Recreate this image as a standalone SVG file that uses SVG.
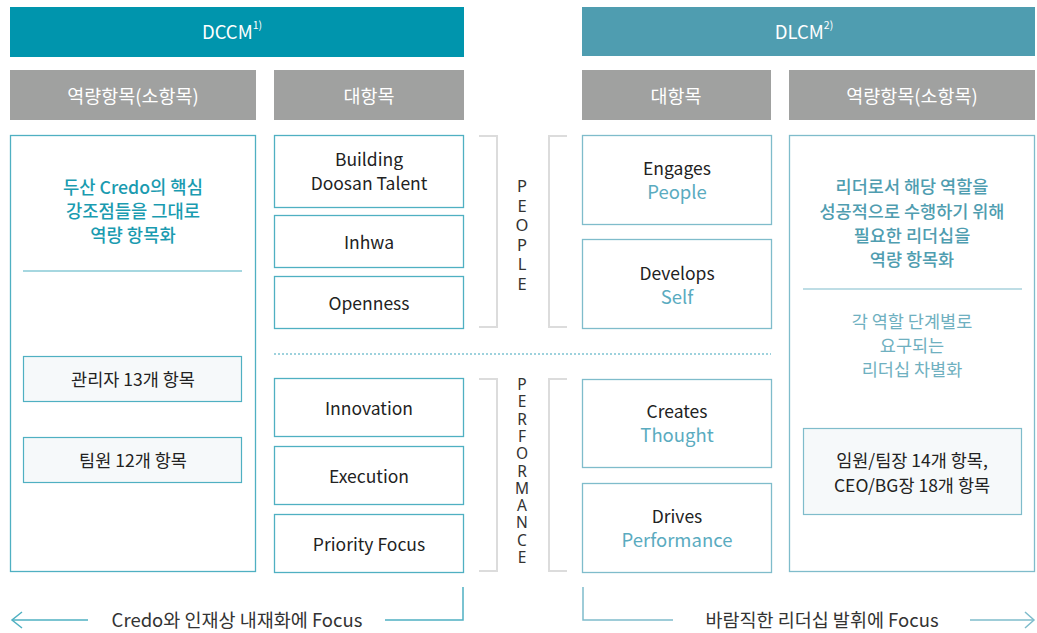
<svg xmlns="http://www.w3.org/2000/svg" width="1037" height="633" viewBox="0 0 1037 633">
<style>
text{font-family:"Noto Sans CJK KR","Noto Sans",sans-serif;text-anchor:middle;dominant-baseline:central}
.hd{fill:#fff;font-size:18.5px}
.gh{fill:#a0a1a0}
.box{fill:#fff;stroke:#4fb0c2;stroke-width:1.3}
.rbox{fill:#fff;stroke:#7fbccb;stroke-width:1.3}
.sub{fill:#f6f9fa;stroke:#4fb0c2;stroke-width:1.2}
.rsub{fill:#f6f9fa;stroke:#7fbccb;stroke-width:1.2}
.t{fill:#222;font-size:17.5px}
.tc{fill:#1a9bb0;font-size:17.7px;font-weight:500}
.rc{fill:#4f9db0;font-size:17.5px;font-weight:500}
.rl{fill:#6fb0c0;font-size:17.5px}
.lt{fill:#5aabbf;font-size:18.5px}
.br{fill:none;stroke:#dcdcdc;stroke-width:2}
.v{fill:#333;font-family:"Noto Sans",sans-serif}
.vp{font-size:16.5px}
.vf{font-size:15.5px}
.ln{fill:none;stroke:#4fb0c2;stroke-width:1.5}
.rln{fill:none;stroke:#7fbccb;stroke-width:1.5}
.bt{fill:#333;font-size:18.5px}
</style>
<g id="dccm"><rect x="10" y="7" width="454" height="50" fill="#0095ad"/><text class="hd" x="232" y="31">DCCM<tspan font-size="10.5" dy="-7">1)</tspan></text></g>
<g id="dlcm"><rect x="582" y="7" width="453" height="49" fill="#4f9db0"/><text class="hd" x="804" y="31">DLCM<tspan font-size="10.5" dy="-7">2)</tspan></text></g>
<g id="hdr-l1"><rect class="gh" x="10" y="70" width="246" height="50"/><text class="hd" x="133" y="95">역량항목(소항목)</text></g>
<g id="hdr-l2"><rect class="gh" x="274" y="70" width="190" height="50"/><text class="hd" x="369" y="95">대항목</text></g>
<g id="hdr-r1"><rect class="gh" x="582" y="70" width="189" height="50"/><text class="hd" x="676" y="95">대항목</text></g>
<g id="hdr-r2"><rect class="gh" x="789" y="70" width="246" height="50"/><text class="hd" x="912" y="95">역량항목(소항목)</text></g>

<g id="left-main">
<rect class="box" x="10.5" y="135.5" width="245" height="436"/>
<text class="tc" x="133" y="186">두산 Credo의 핵심</text>
<text class="tc" x="133" y="210">강조점들을 그대로</text>
<text class="tc" x="133" y="234">역량 항목화</text>
<line x1="23" y1="271" x2="242" y2="271" stroke="#4fb0c2" stroke-width="1.2"/>
</g>
<g id="mgr"><rect class="sub" x="23.5" y="356.5" width="218" height="45"/><text class="t" x="133" y="378">관리자 13개 항목</text></g>
<g id="team"><rect class="sub" x="23.5" y="437.5" width="218" height="45"/><text class="t" x="133" y="459">팀원 12개 항목</text></g>

<g id="building"><rect class="box" x="274.5" y="135.5" width="189" height="72"/><text class="t" x="369" y="158">Building</text><text class="t" x="369" y="182">Doosan Talent</text></g>
<g id="inhwa"><rect class="box" x="274.5" y="215.5" width="189" height="52"/><text class="t" x="369" y="241">Inhwa</text></g>
<g id="openness"><rect class="box" x="274.5" y="276.5" width="189" height="52"/><text class="t" x="369" y="302">Openness</text></g>
<g id="innovation"><rect class="box" x="274.5" y="378.5" width="189" height="58"/><text class="t" x="369" y="407">Innovation</text></g>
<g id="execution"><rect class="box" x="274.5" y="446.5" width="189" height="58"/><text class="t" x="369" y="475">Execution</text></g>
<g id="priority"><rect class="box" x="274.5" y="514.5" width="189" height="58"/><text class="t" x="369" y="543">Priority Focus</text></g>

<g id="engages"><rect class="rbox" x="582.5" y="135.5" width="189" height="89"/><text class="t" x="677" y="167">Engages</text><text class="lt" x="677" y="191">People</text></g>
<g id="develops"><rect class="rbox" x="582.5" y="239.5" width="189" height="89"/><text class="t" x="677" y="272">Develops</text><text class="lt" x="677" y="296">Self</text></g>
<g id="creates"><rect class="rbox" x="582.5" y="379.5" width="189" height="88"/><text class="t" x="677" y="410">Creates</text><text class="lt" x="677" y="434">Thought</text></g>
<g id="drives"><rect class="rbox" x="582.5" y="483.5" width="189" height="89"/><text class="t" x="677" y="515">Drives</text><text class="lt" x="677" y="539">Performance</text></g>

<g id="right-main">
<rect class="rbox" x="789.5" y="135.5" width="245" height="436"/>
<text class="rc" x="912" y="185">리더로서 해당 역할을</text>
<text class="rc" x="912" y="210">성공적으로 수행하기 위해</text>
<text class="rc" x="912" y="234">필요한 리더십을</text>
<text class="rc" x="912" y="258">역량 항목화</text>
<line x1="803" y1="289" x2="1022" y2="289" stroke="#7fbccb" stroke-width="1.2"/>
<text class="rl" x="912" y="320">각 역할 단계별로</text>
<text class="rl" x="912" y="344">요구되는</text>
<text class="rl" x="912" y="368">리더십 차별화</text>
</g>
<g id="exec-items"><rect class="rsub" x="803.5" y="428.5" width="218" height="86"/><text class="t" x="912" y="459">임원/팀장 14개 항목,</text><text class="t" x="912" y="484">CEO/BG장 18개 항목</text></g>

<g id="people">
<path class="br" d="M479 136H497V327H479"/>
<path class="br" d="M567 136H549V327H567"/>
<text class="v vp" x="522" y="185"><tspan x="522" dy="0">P</tspan><tspan x="522" dy="19.5">E</tspan><tspan x="522" dy="19.5">O</tspan><tspan x="522" dy="19.5">P</tspan><tspan x="522" dy="19.5">L</tspan><tspan x="522" dy="19.5">E</tspan></text>
</g>
<g id="performance">
<path class="br" d="M479 379H497V571H479"/>
<path class="br" d="M567 379H549V571H567"/>
<text class="v vf" x="522" y="384"><tspan x="522" dy="0">P</tspan><tspan x="522" dy="17.3">E</tspan><tspan x="522" dy="17.3">R</tspan><tspan x="522" dy="17.3">F</tspan><tspan x="522" dy="17.3">O</tspan><tspan x="522" dy="17.3">R</tspan><tspan x="522" dy="17.3">M</tspan><tspan x="522" dy="17.3">A</tspan><tspan x="522" dy="17.3">N</tspan><tspan x="522" dy="17.3">C</tspan><tspan x="522" dy="17.3">E</tspan></text>
</g>

<g id="connectors">
<line x1="274" y1="354" x2="771" y2="354" stroke="#7fc4d2" stroke-width="1.3" stroke-dasharray="2 2"/>
<path class="ln" d="M12 620H88"/>
<path class="ln" d="M22 612L12 620L22 628"/>
<path class="ln" d="M385 620H463V587"/>
<path class="rln" d="M583 587V620H673"/>
<path class="rln" d="M970 620H1034"/>
<path class="rln" d="M1025 612L1034 620L1025 628"/>
</g>
<text class="bt" x="237" y="619">Credo와 인재상 내재화에 Focus</text>
<text class="bt" x="822" y="619">바람직한 리더십 발휘에 Focus</text>
</svg>
